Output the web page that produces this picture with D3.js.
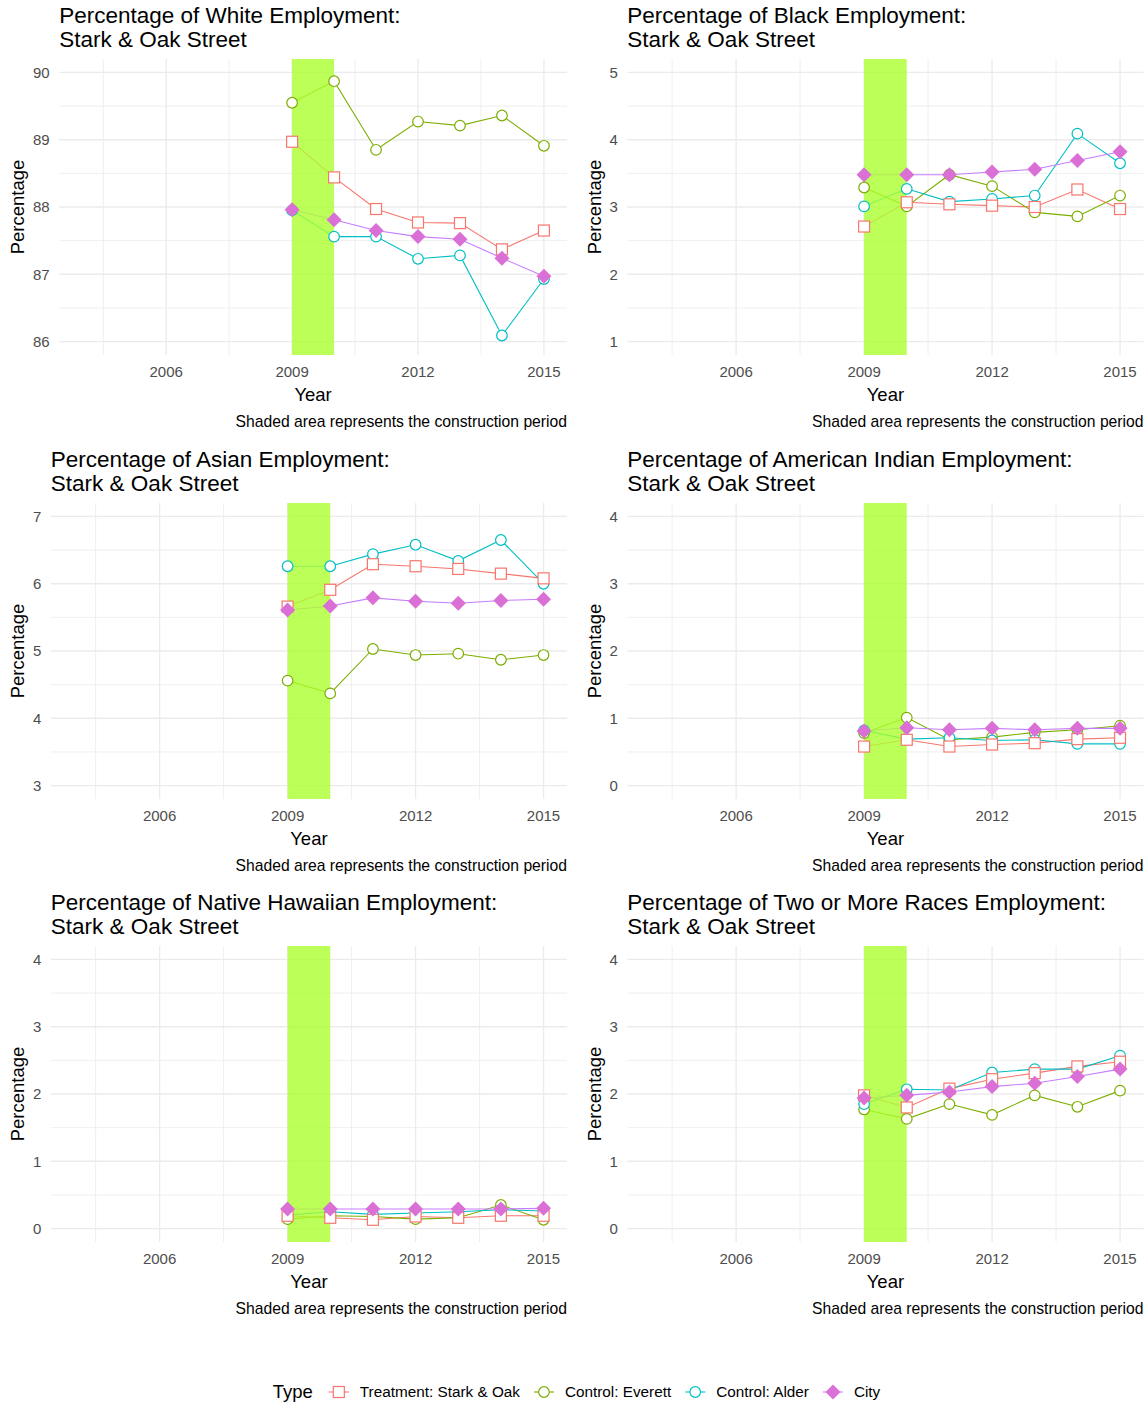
<!DOCTYPE html>
<meta charset="utf-8">
<script src="https://d3js.org/d3.v7.min.js"></script>
<style>
  body { margin: 0; background: #fff; }
  text { font-family: "Liberation Sans", Arial, sans-serif; }
</style>
<div id="my_dataviz"></div>
<script>

  // years shown and the four series
  var years = [2009, 2010, 2011, 2012, 2013, 2014, 2015];
  var types = ["Treatment: Stark & Oak", "Control: Everett", "Control: Alder", "City"];
  var xTicks = [2006, 2009, 2012, 2015];
  var xMinor = [2004.5, 2007.5, 2010.5, 2013.5];

  // White
  var whiteTreatment = [88.97, 88.44, 87.97, 87.77, 87.76, 87.37, 87.65];
  var whiteEverett   = [89.55, 89.87, 88.85, 89.27, 89.21, 89.36, 88.91];
  var whiteAlder     = [87.95, 87.56, 87.56, 87.23, 87.28, 86.09, 86.93];
  var whiteCity      = [87.96, 87.81, 87.65, 87.56, 87.52, 87.24, 86.97];
  // Black
  var blackTreatment = [2.71, 3.07, 3.04, 3.02, 3.00, 3.26, 2.97];
  var blackEverett   = [3.29, 3.01, 3.48, 3.31, 2.92, 2.86, 3.17];
  var blackAlder     = [3.01, 3.27, 3.08, 3.12, 3.17, 4.09, 3.65];
  var blackCity      = [3.48, 3.48, 3.48, 3.52, 3.56, 3.69, 3.82];
  // Asian
  var asianTreatment = [5.66, 5.91, 6.29, 6.26, 6.22, 6.15, 6.08];
  var asianEverett   = [4.56, 4.37, 5.03, 4.94, 4.96, 4.87, 4.94];
  var asianAlder     = [6.26, 6.26, 6.44, 6.58, 6.34, 6.65, 6.00];
  var asianCity      = [5.61, 5.67, 5.79, 5.74, 5.71, 5.75, 5.77];
  // American Indian
  var amindTreatment = [0.58, 0.68, 0.58, 0.61, 0.63, 0.69, 0.71];
  var amindEverett   = [0.78, 1.01, 0.68, 0.72, 0.79, 0.83, 0.89];
  var amindAlder     = [0.82, 0.69, 0.71, 0.67, 0.68, 0.62, 0.62];
  var amindCity      = [0.81, 0.86, 0.83, 0.85, 0.83, 0.85, 0.85];
  // Native Hawaiian
  var hawaiiTreatment = [0.19, 0.16, 0.13, 0.18, 0.16, 0.19, 0.19];
  var hawaiiEverett   = [0.14, 0.19, 0.18, 0.14, 0.16, 0.35, 0.13];
  var hawaiiAlder     = [0.20, 0.25, 0.21, 0.23, 0.25, 0.28, 0.26];
  var hawaiiCity      = [0.29, 0.29, 0.29, 0.29, 0.29, 0.29, 0.30];
  // Two or more races
  var twoTreatment = [1.98, 1.80, 2.08, 2.22, 2.31, 2.41, 2.48];
  var twoEverett   = [1.77, 1.63, 1.85, 1.69, 1.98, 1.81, 2.05];
  var twoAlder     = [1.85, 2.07, 2.06, 2.32, 2.37, 2.37, 2.57];
  var twoCity      = [1.94, 1.98, 2.03, 2.11, 2.16, 2.26, 2.37];

  var panelTitles = ["White", "Black", "Asian", "American Indian", "Native Hawaiian", "Two or More Races"];
  var panelLimits = [[86, 90], [1, 5], [3, 7], [0, 4], [0, 4], [0, 4]];
  var panelValues = [
    [whiteTreatment, whiteEverett, whiteAlder, whiteCity],
    [blackTreatment, blackEverett, blackAlder, blackCity],
    [asianTreatment, asianEverett, asianAlder, asianCity],
    [amindTreatment, amindEverett, amindAlder, amindCity],
    [hawaiiTreatment, hawaiiEverett, hawaiiAlder, hawaiiCity],
    [twoTreatment, twoEverett, twoAlder, twoCity]
  ];

  var lineColors = ["#F8766D", "#7CAE00", "#00BFC4", "#C77CFF"];
  var pointColors = ["#F8766D", "#7CAE00", "#00BFC4", "#DA70D6"];
  var shapes = ["square", "circle", "circle", "diamond"];
  var pointOrder = [1, 2, 0, 3];

  var width = 1147, height = 1405;
  var rowTop = [0, 444, 887];
  var colX = [0, 576.5];

  var svg = d3.select("#my_dataviz")
    .append("svg")
      .attr("width", width)
      .attr("height", height);

  svg.append("rect").attr("width", width).attr("height", height).attr("fill", "#fff");

  // measure text width
  function textWidth(str, size) {
    var t = svg.append("text").style("font-size", size + "px").text(str);
    var w = t.node().getComputedTextLength();
    t.remove();
    return w;
  }

  function drawPoint(g, shape, cx, cy, color) {
    if (shape == "square") {
      g.append("rect")
        .attr("x", cx - 5.5).attr("y", cy - 5.5)
        .attr("width", 11).attr("height", 11)
        .attr("fill", "#fff").attr("stroke", color).attr("stroke-width", 1.2);
    } else if (shape == "circle") {
      g.append("circle")
        .attr("cx", cx).attr("cy", cy).attr("r", 5.3)
        .attr("fill", "#fff").attr("stroke", color).attr("stroke-width", 1.2);
    } else {
      var s = 7.5;
      g.append("path")
        .attr("d", "M" + cx + "," + (cy - s) + "L" + (cx + s) + "," + cy + "L" + cx + "," + (cy + s) + "L" + (cx - s) + "," + cy + "Z")
        .attr("fill", color);
    }
  }

  panelTitles.forEach(function(name, i) {
    var row = Math.floor(i / 2), col = i % 2;
    var top = rowTop[row] + 59, bottom = rowTop[row] + 355;
    var lim = panelLimits[i];
    var yTicks = d3.range(lim[0], lim[1] + 1);
    var yMinor = d3.range(lim[0] + 0.5, lim[1], 1);

    var maxW = d3.max(yTicks, function(t) { return textWidth(String(t), 15); });
    var labelLeft = colX[col] + 33;
    var left = labelLeft + maxW + 9.5;
    var right = colX[col] + 567;

    var x = d3.scaleLinear().domain([2003.45, 2015.55]).range([left, right]);
    var y = d3.scaleLinear().domain([lim[0] - 0.2, lim[1] + 0.2]).range([bottom, top]);

    var g = svg.append("g");

    // grid
    g.selectAll(".ymin").data(yMinor).enter().append("line")
      .attr("x1", left).attr("x2", right)
      .attr("y1", function(d) { return y(d); }).attr("y2", function(d) { return y(d); })
      .attr("stroke", "#EBEBEB").attr("stroke-width", 0.8);
    g.selectAll(".xmin").data(xMinor).enter().append("line")
      .attr("y1", top).attr("y2", bottom)
      .attr("x1", function(d) { return x(d); }).attr("x2", function(d) { return x(d); })
      .attr("stroke", "#EBEBEB").attr("stroke-width", 0.8);
    g.selectAll(".ymaj").data(yTicks).enter().append("line")
      .attr("x1", left).attr("x2", right)
      .attr("y1", function(d) { return y(d); }).attr("y2", function(d) { return y(d); })
      .attr("stroke", "#EBEBEB").attr("stroke-width", 1.3);
    g.selectAll(".xmaj").data(xTicks).enter().append("line")
      .attr("y1", top).attr("y2", bottom)
      .attr("x1", function(d) { return x(d); }).attr("x2", function(d) { return x(d); })
      .attr("stroke", "#EBEBEB").attr("stroke-width", 1.3);

    // lines
    var line = d3.line()
      .x(function(d, k) { return x(years[k]); })
      .y(function(d) { return y(d); });
    panelValues[i].forEach(function(vals, s) {
      g.append("path")
        .attr("d", line(vals))
        .attr("fill", "none")
        .attr("stroke", lineColors[s])
        .attr("stroke-width", 1.1);
    });

    // construction period
    g.append("rect")
      .attr("x", x(2009)).attr("width", x(2010) - x(2009))
      .attr("y", top).attr("height", bottom - top)
      .attr("fill", "#ADFF2F").attr("fill-opacity", 0.8);

    // points
    pointOrder.forEach(function(s) {
      panelValues[i][s].forEach(function(v, k) {
        drawPoint(g, shapes[s], x(years[k]), y(v), pointColors[s]);
      });
    });

    // y tick labels
    g.selectAll(".ylab").data(yTicks).enter().append("text")
      .attr("x", left - 9.5)
      .attr("y", function(d) { return y(d); })
      .attr("dy", "0.35em")
      .attr("text-anchor", "end")
      .style("font-size", "15px")
      .attr("fill", "#4D4D4D")
      .text(function(d) { return d; });

    // x tick labels
    g.selectAll(".xlab").data(xTicks).enter().append("text")
      .attr("x", function(d) { return x(d); })
      .attr("y", bottom + 22)
      .attr("text-anchor", "middle")
      .style("font-size", "15px")
      .attr("fill", "#4D4D4D")
      .text(function(d) { return d; });

    // axis titles
    g.append("text")
      .attr("x", (left + right) / 2)
      .attr("y", bottom + 46)
      .attr("text-anchor", "middle")
      .style("font-size", "18.5px")
      .text("Year");
    g.append("text")
      .attr("transform", "translate(" + (colX[col] + 18) + "," + ((top + bottom) / 2) + ") rotate(-90)")
      .attr("dy", "0.35em")
      .attr("text-anchor", "middle")
      .style("font-size", "18.5px")
      .text("Percentage");

    // caption
    g.append("text")
      .attr("x", right)
      .attr("y", bottom + 72)
      .attr("text-anchor", "end")
      .style("font-size", "15.7px")
      .text("Shaded area represents the construction period");

    // title
    g.append("text")
      .attr("x", left).attr("y", top - 36)
      .style("font-size", "22.5px")
      .text("Percentage of " + name + " Employment:");
    g.append("text")
      .attr("x", left).attr("y", top - 12)
      .style("font-size", "22.5px")
      .text("Stark & Oak Street");
  });

  // legend
  var legY = 1392;
  var typeW = textWidth("Type", 18.5);
  var itemW = types.map(function(t) { return textWidth(t, 15.3); });
  var total = typeW + 16 + d3.sum(itemW) + types.length * (20 + 11) + (types.length - 1) * 14;
  var lx = 576.5 - total / 2;
  var legend = svg.append("g");
  legend.append("text")
    .attr("x", lx).attr("y", legY).attr("dy", "0.35em")
    .style("font-size", "18.5px")
    .text("Type");
  lx += typeW + 16;
  types.forEach(function(t, s) {
    legend.append("line")
      .attr("x1", lx).attr("x2", lx + 20)
      .attr("y1", legY).attr("y2", legY)
      .attr("stroke", lineColors[s]).attr("stroke-width", 1.1);
    drawPoint(legend, shapes[s], lx + 10, legY, pointColors[s]);
    lx += 31;
    legend.append("text")
      .attr("x", lx).attr("y", legY).attr("dy", "0.35em")
      .style("font-size", "15.3px")
      .text(t);
    lx += itemW[s] + 14;
  });

</script>
